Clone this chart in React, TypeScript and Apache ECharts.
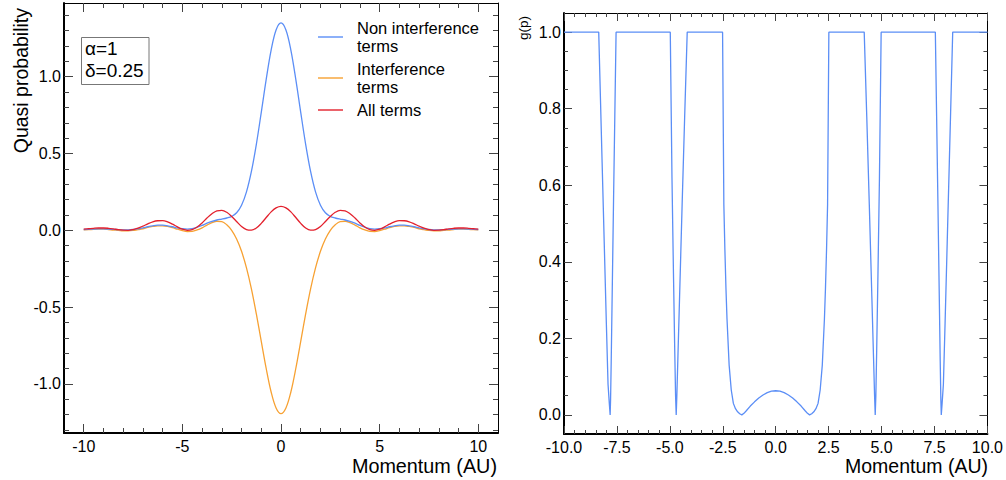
import React, { useEffect, useRef } from "react";
import * as echarts from "echarts";

// ---------- Left panel data ----------
const momentum = [
  -10, -9.75, -9.5, -9.25, -9, -8.75, -8.5, -8.25, -8, -7.75, -7.5, -7.25, -7, -6.75, -6.5, -6.25, -6, -5.75, -5.5, -5.25,
  -5, -4.75, -4.5, -4.25, -4, -3.75, -3.5, -3.25, -3, -2.75, -2.5, -2.25, -2, -1.75, -1.5, -1.25, -1, -0.75, -0.5, -0.25,
  0, 0.25, 0.5, 0.75, 1, 1.25, 1.5, 1.75, 2, 2.25, 2.5, 2.75, 3, 3.25, 3.5, 3.75, 4, 4.25, 4.5, 4.75,
  5, 5.25, 5.5, 5.75, 6, 6.25, 6.5, 6.75, 7, 7.25, 7.5, 7.75, 8, 8.25, 8.5, 8.75, 9, 9.25, 9.5, 9.75, 10,
];

const nonInterference = [
  0.005, 0.006, 0.008, 0.009, 0.009, 0.007, 0.006, 0.004, 0.003, 0.003, 0.005, 0.01, 0.016, 0.023, 0.029, 0.033, 0.033, 0.029, 0.023, 0.015,
  0.01, 0.008, 0.011, 0.02, 0.032, 0.046, 0.058, 0.067, 0.073, 0.08, 0.09, 0.114, 0.163, 0.25, 0.383, 0.56, 0.768, 0.983, 1.173, 1.304,
  1.35, 1.304, 1.173, 0.983, 0.768, 0.56, 0.383, 0.25, 0.163, 0.114, 0.09, 0.08, 0.073, 0.067, 0.058, 0.046, 0.032, 0.02, 0.011, 0.008,
  0.01, 0.015, 0.023, 0.029, 0.033, 0.033, 0.029, 0.023, 0.016, 0.01, 0.005, 0.003, 0.003, 0.004, 0.006, 0.007, 0.009, 0.009, 0.008, 0.006, 0.005,
];

const interference = [
  0.003, 0.004, 0.006, 0.007, 0.007, 0.005, 0.002, 0, -0.003, -0.003, -0.001, 0.004, 0.01, 0.019, 0.025, 0.029, 0.029, 0.025, 0.017, 0.007,
  -0.002, -0.008, -0.007, 0.002, 0.016, 0.034, 0.05, 0.059, 0.057, 0.036, 0, -0.057, -0.137, -0.245, -0.382, -0.545, -0.723, -0.9, -1.053, -1.157,
  -1.194, -1.157, -1.053, -0.9, -0.723, -0.545, -0.382, -0.245, -0.137, -0.057, 0, 0.036, 0.057, 0.059, 0.05, 0.034, 0.016, 0.002, -0.007, -0.008,
  -0.002, 0.007, 0.017, 0.025, 0.029, 0.029, 0.025, 0.019, 0.01, 0.004, -0.001, -0.003, -0.003, 0, 0.002, 0.005, 0.007, 0.007, 0.006, 0.004, 0.003,
];

const allTerms = [
  0.007, 0.01, 0.013, 0.015, 0.015, 0.013, 0.009, 0.004, 0.001, 0, 0.005, 0.014, 0.027, 0.042, 0.055, 0.062, 0.063, 0.055, 0.04, 0.022,
  0.007, 0, 0.005, 0.021, 0.048, 0.08, 0.108, 0.127, 0.13, 0.117, 0.09, 0.057, 0.025, 0.005, 0.001, 0.015, 0.045, 0.083, 0.12, 0.146,
  0.156, 0.146, 0.12, 0.083, 0.045, 0.015, 0.001, 0.005, 0.025, 0.057, 0.09, 0.117, 0.13, 0.127, 0.108, 0.08, 0.048, 0.021, 0.005, 0,
  0.007, 0.022, 0.04, 0.055, 0.063, 0.062, 0.055, 0.042, 0.027, 0.014, 0.005, 0, 0.001, 0.004, 0.009, 0.013, 0.015, 0.015, 0.013, 0.01, 0.007,
];

// ---------- Right panel data ----------
const gMomentum = [
  -10, -8.36, -8.28, -8.2, -8.1, -8.0, -7.92, -7.86, -7.82, -7.8, -7.77, -7.72, -7.66, -7.6, -7.54,
  -4.98, -4.9, -4.83, -4.77, -4.73, -4.7, -4.67, -4.62, -4.54, -4.42, -4.3, -4.18,
  -2.51, -2.45, -2.4, -2.35, -2.3, -2.2, -2.1, -2.0, -1.9, -1.8, -1.7, -1.6, -1.5, -1.4, -1.2, -1.0, -0.8, -0.6, -0.4, -0.2,
  0,
  0.2, 0.4, 0.6, 0.8, 1.0, 1.2, 1.4, 1.5, 1.6, 1.7, 1.8, 1.9, 2.0, 2.1, 2.2, 2.3, 2.35, 2.4, 2.45, 2.51,
  4.18, 4.3, 4.42, 4.54, 4.62, 4.67, 4.7, 4.73, 4.77, 4.83, 4.9, 4.98,
  7.54, 7.6, 7.66, 7.72, 7.77, 7.8, 7.82, 7.86, 7.92, 8.0, 8.1, 8.2, 8.28, 8.36, 10,
];

const gValues = [
  1, 1, 0.83, 0.66, 0.45, 0.24, 0.08, 0.03, 0, 0.04, 0.14, 0.33, 0.56, 0.78, 1,
  1, 0.62, 0.37, 0.17, 0.05, 0, 0.05, 0.15, 0.31, 0.55, 0.78, 1,
  1, 0.55, 0.43, 0.33, 0.25, 0.13, 0.065, 0.03, 0.016, 0.008, 0.003, 0, 0.004, 0.01, 0.023, 0.034, 0.044, 0.052, 0.058, 0.062,
  0.063,
  0.062, 0.058, 0.052, 0.044, 0.034, 0.023, 0.01, 0.004, 0, 0.003, 0.008, 0.016, 0.03, 0.065, 0.13, 0.25, 0.33, 0.43, 0.55, 1,
  1, 0.78, 0.55, 0.31, 0.15, 0.05, 0, 0.05, 0.17, 0.37, 0.62, 1,
  1, 0.78, 0.56, 0.33, 0.14, 0.04, 0, 0.03, 0.08, 0.24, 0.45, 0.66, 0.83, 1, 1,
];

// ---------- Tick values ----------
const leftXMajor = [-10, -5, 0, 5, 10];
const leftXMinor = [-9, -8, -7, -6, -4, -3, -2, -1, 1, 2, 3, 4, 6, 7, 8, 9];
const leftYMajor = [-1, -0.5, 0, 0.5, 1];
const leftYMinor = [-1.3, -1.2, -1.1, -0.9, -0.8, -0.7, -0.6, -0.4, -0.3, -0.2, -0.1, 0.1, 0.2, 0.3, 0.4, 0.6, 0.7, 0.8, 0.9, 1.1, 1.2, 1.3, 1.4];
const rightXMajor = [-10, -7.5, -5, -2.5, 0, 2.5, 5, 7.5, 10];
const rightXMinor = [-9.5, -9, -8.5, -8, -7, -6.5, -6, -5.5, -4.5, -4, -3.5, -3, -2, -1.5, -1, -0.5, 0.5, 1, 1.5, 2, 3, 3.5, 4, 4.5, 5.5, 6, 6.5, 7, 8, 8.5, 9, 9.5];
const rightYMajor = [0, 0.2, 0.4, 0.6, 0.8, 1];
const rightYMinor = [0.05, 0.1, 0.15, 0.25, 0.3, 0.35, 0.45, 0.5, 0.55, 0.65, 0.7, 0.75, 0.85, 0.9, 0.95];

const seriesNames = ["Non interference\nterms", "Interference\nterms", "All terms"];
const colors = ["#5b8ef6", "#f7a132", "#e3202c"];

const FONT = "'Liberation Sans', Arial, Helvetica, sans-serif";

function makeAxes(
  dim: "x" | "y",
  gridIndex: number,
  min: number,
  max: number,
  major: number[],
  minor: number[],
  fmt: (v: number) => string,
  majorLen: number,
  minorLen: number,
  labelMargin: number
) {
  const near = dim === "x" ? "bottom" : "left";
  const far = dim === "x" ? "top" : "right";
  const base = (position: string) => ({
    type: "value",
    gridIndex,
    min,
    max,
    position,
    silent: true,
    splitLine: { show: false },
    minorTick: { show: false },
    minorSplitLine: { show: false },
  });
  const tick = (vals: number[], len: number) => ({
    show: true,
    inside: true,
    length: len,
    customValues: vals,
    lineStyle: { color: "#444", width: 1 },
  });
  return [
    {
      ...base(near),
      axisLine: { show: true, onZero: false, lineStyle: { color: "#000", width: 2 } },
      axisTick: tick(major, majorLen),
      axisLabel: {
        show: true,
        customValues: major,
        formatter: (v: number) => fmt(v),
        margin: labelMargin,
        fontSize: 16,
        color: "#000",
        fontFamily: FONT,
      },
    },
    {
      ...base(near),
      axisLine: { show: false, onZero: false },
      axisTick: tick(minor, minorLen),
      axisLabel: { show: false },
    },
    {
      ...base(far),
      axisLine: { show: true, onZero: false, lineStyle: { color: "#000", width: 1 } },
      axisTick: tick(major, majorLen),
      axisLabel: { show: false },
    },
    {
      ...base(far),
      axisLine: { show: false, onZero: false },
      axisTick: tick(minor, minorLen),
      axisLabel: { show: false },
    },
  ];
}

export default function App() {
  const ref = useRef<HTMLDivElement>(null);

  useEffect(() => {
    if (!ref.current) return;
    const chart = echarts.init(ref.current, undefined, { renderer: "svg" });

    const leftData = [nonInterference, interference, allTerms];
    const leftSeries = leftData.map((vals, i) => ({
      name: seriesNames[i],
      type: "line",
      xAxisIndex: 0,
      yAxisIndex: 0,
      data: momentum.map((m, k) => [m, vals[k]]),
      symbol: "none",
      showSymbol: false,
      smooth: 0.35,
      lineStyle: { color: colors[i], width: 1.3 },
      itemStyle: { color: colors[i] },
      z: i === 2 ? 4 : 3 - i,
    }));

    const option = {
      animation: false,
      backgroundColor: "#fff",
      grid: [
        { left: 64, top: 3, width: 434, height: 430, containLabel: false },
        { left: 564, top: 13, width: 425, height: 421, containLabel: false },
      ],
      xAxis: [
        ...makeAxes("x", 0, -11, 11, leftXMajor, leftXMinor, (v) => String(v), 9, 5, 5),
        ...makeAxes("x", 1, -10, 10, rightXMajor, rightXMinor, (v) => v.toFixed(1), 8, 4, 5),
      ],
      yAxis: [
        ...makeAxes("y", 0, -1.32, 1.48, leftYMajor, leftYMinor, (v) => v.toFixed(1), 9, 5, 3),
        ...makeAxes("y", 1, -0.05, 1.05, rightYMajor, rightYMinor, (v) => v.toFixed(1), 8, 4, 3),
      ],
      legend: {
        left: 318,
        top: 19,
        orient: "vertical",
        icon: "rect",
        itemWidth: 25,
        itemHeight: 1.4,
        itemGap: 5,
        padding: 0,
        selectedMode: false,
        data: seriesNames,
        textStyle: { fontSize: 16.5, lineHeight: 18, color: "#000", fontFamily: FONT, padding: [0, 0, 0, 9] },
      },
      series: [
        ...leftSeries,
        {
          name: "g(p)",
          type: "line",
          xAxisIndex: 4,
          yAxisIndex: 4,
          data: gMomentum.map((m, k) => [m, gValues[k]]),
          symbol: "none",
          showSymbol: false,
          smooth: false,
          lineStyle: { color: colors[0], width: 1.3 },
          itemStyle: { color: colors[0] },
        },
      ],
      graphic: [
        {
          type: "rect",
          shape: { x: 81.5, y: 37.5, width: 67.5, height: 47 },
          style: { fill: "none", stroke: "#777", lineWidth: 1 },
          silent: true,
        },
        {
          type: "text",
          x: 85,
          y: 48.5,
          style: { text: "α=1", font: `19px ${FONT}`, fill: "#000", textVerticalAlign: "middle" },
          silent: true,
        },
        {
          type: "text",
          x: 85,
          y: 70.5,
          style: { text: "δ=0.25", font: `19px ${FONT}`, fill: "#000", textVerticalAlign: "middle" },
          silent: true,
        },
        {
          type: "text",
          x: 21,
          y: 8,
          rotation: Math.PI / 2,
          style: { text: "Quasi probability", font: `19.5px ${FONT}`, fill: "#000", textAlign: "right", textVerticalAlign: "middle" },
          silent: true,
        },
        {
          type: "text",
          x: 497,
          y: 466,
          style: { text: "Momentum (AU)", font: `19.8px ${FONT}`, fill: "#000", textAlign: "right", textVerticalAlign: "middle" },
          silent: true,
        },
        {
          type: "text",
          x: 523.5,
          y: 16,
          rotation: Math.PI / 2,
          style: { text: "g(p)", font: `13.5px ${FONT}`, fill: "#000", textAlign: "right", textVerticalAlign: "middle" },
          silent: true,
        },
        {
          type: "text",
          x: 988,
          y: 466,
          style: { text: "Momentum (AU)", font: `19.5px ${FONT}`, fill: "#000", textAlign: "right", textVerticalAlign: "middle" },
          silent: true,
        },
      ],
    };

    chart.setOption(option as any);
    return () => chart.dispose();
  }, []);

  return (
    <div
      ref={ref}
      style={{ position: "fixed", left: 0, top: 0, width: 1006, height: 480, background: "#fff" }}
    />
  );
}
